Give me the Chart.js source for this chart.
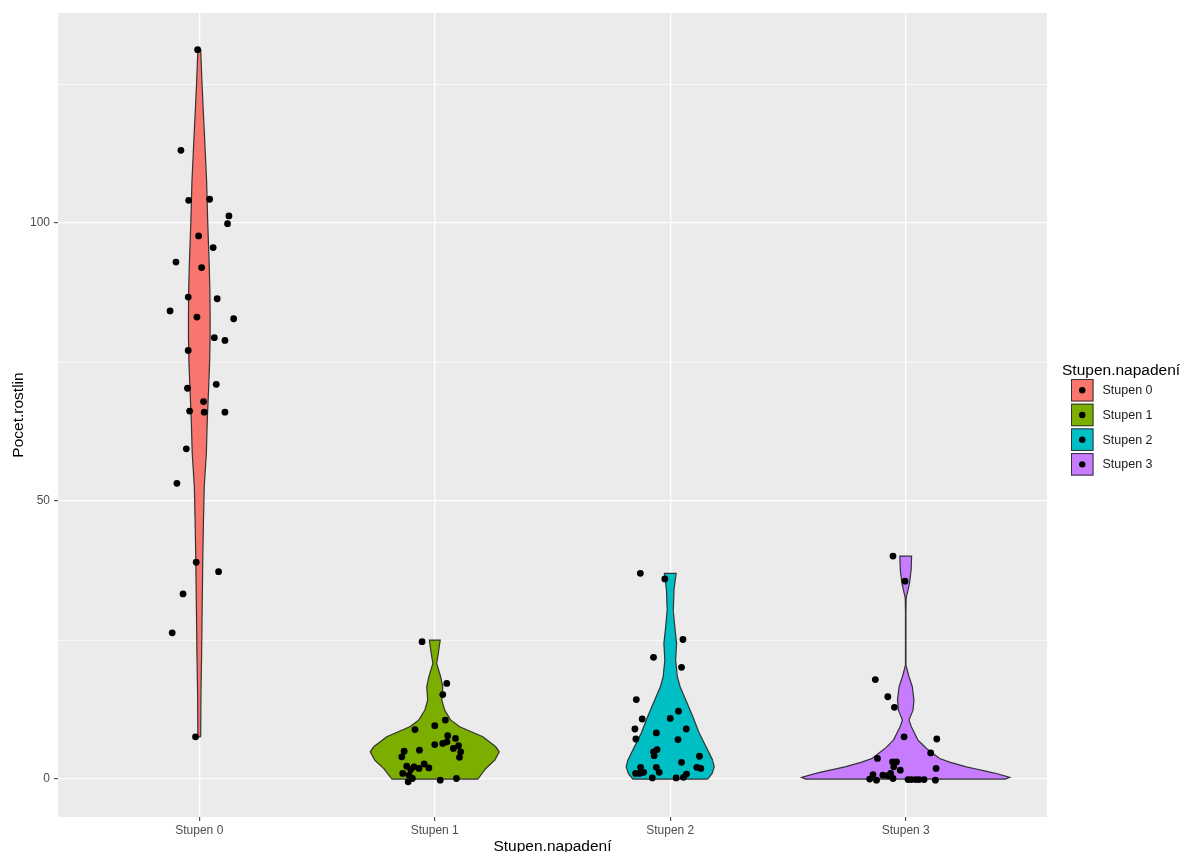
<!DOCTYPE html>
<html><head><meta charset="utf-8">
<script src="https://cdn.jsdelivr.net/npm/chart.js@4.4.1/dist/chart.umd.min.js"></script>
<style>html,body{margin:0;padding:0;background:#fff}#wrap{width:1192px;height:852px}</style>
</head><body><div id="wrap"><canvas id="c" width="1192" height="852"></canvas></div>
<script>
const categories = ['Stupen 0','Stupen 1','Stupen 2','Stupen 3'];
const colors = ['#F8766D','#7CAE00','#00BFC4','#C77CFF'];
const yTicks = [0,25,50,75,100,125];
const yTickLabels = ['0','','50','','100',''];
const xTitle = 'Stupen.napadení';
const yTitle = 'Pocet.rostlin';
const legendTitle = 'Stupen.napadení';

// violin outlines: value levels and half widths (in category units)
const violin0Y = [7.6,15,22.7,30,40,47,52.6,58.6,64.6,70.6,75,79.6,83.1,88,92.8,100,107.7,116.7,121,125.7,131.2];
const violin0W = [0.006,0.007,0.010,0.012,0.015,0.018,0.021,0.030,0.034,0.040,0.044,0.046,0.046,0.045,0.042,0.036,0.031,0.021,0.016,0.011,0.006];
const violin1Y = [0,1.9,3.4,4.9,5.8,7.6,9.4,10.6,12.4,14.2,16.6,18.4,20.8,22.6,25];
const violin1W = [0.183,0.217,0.255,0.274,0.259,0.204,0.106,0.068,0.042,0.030,0.034,0.025,0.008,0.015,0.023];
const violin2Y = [0,1.0,2.2,3.4,5.2,8.3,11.2,14.2,16.6,18.4,21.4,24.4,27.5,30.4,34.0,37.0];
const violin2W = [0.159,0.178,0.187,0.180,0.159,0.123,0.096,0.066,0.042,0.030,0.023,0.027,0.019,0.013,0.016,0.025];
const violin3Y = [0,0.3,1.0,1.5,2.2,3.0,3.7,5.5,7.0,9.4,10.6,12.4,14.2,16.6,18.4,20.5,25,30,32.6,33.5,35.2,37.6,40.1];
const violin3W = [0.425,0.442,0.385,0.33,0.258,0.19,0.144,0.088,0.052,0.024,0.014,0.031,0.035,0.028,0.014,0.001,0.001,0.001,0.002,0.007,0.016,0.023,0.025];

// jittered observations: values and horizontal jitter (category units)
const points0Y = [131.2,113.1,104.1,104.3,101.3,99.9,97.7,95.6,93.0,92.0,86.7,86.4,84.2,83.1,82.8,79.4,78.9,77.1,70.3,71.0,67.9,66.2,66.0,66.0,59.4,53.2,39.0,37.3,33.3,26.3,7.6];
const points0J = [-0.007,-0.078,-0.045,0.044,0.126,0.120,-0.003,0.059,-0.099,0.010,-0.047,0.076,-0.124,-0.010,0.146,0.064,0.109,-0.047,-0.050,0.072,0.018,-0.041,0.021,0.109,-0.055,-0.095,-0.013,0.082,-0.069,-0.115,-0.016];
const points1Y = [24.7,17.2,15.2,10.6,9.6,8.9,7.8,7.3,6.7,6.4,6.2,6.0,5.5,4.9,5.2,5.0,4.0,3.9,2.3,2.2,2.7,1.9,2.0,1.7,1.0,0.7,0.1,-0.5,-0.2,0.1];
const points1J = [-0.054,0.051,0.034,0.045,0.000,-0.084,0.055,0.088,0.052,0.034,0.000,0.101,0.079,0.110,-0.065,-0.130,-0.140,0.105,-0.119,-0.088,-0.045,-0.067,-0.025,-0.102,-0.136,-0.109,-0.095,-0.113,0.023,0.092];
const points2Y = [37.0,36.0,25.1,21.9,20.1,14.3,12.2,10.8,10.9,9.0,9.0,8.3,7.2,7.1,5.3,4.9,4.2,4.1,3.0,2.1,2.1,2.1,1.9,1.0,1.0,1.2,1.2,0.9,0.2,0.2,0.3];
const points2J = [-0.127,-0.023,0.054,-0.071,0.048,-0.144,0.035,-0.119,0.000,-0.150,0.068,-0.059,-0.146,0.033,-0.056,-0.071,-0.068,0.124,0.048,-0.126,-0.059,0.113,0.130,-0.147,-0.130,-0.113,-0.047,0.069,-0.076,0.025,0.056];
const points3Y = [40.1,35.6,17.9,14.8,12.9,7.6,7.2,4.7,3.7,3.1,3.1,2.2,1.6,1.9,0.8,0.7,0.6,1.0,0.0,-0.2,0.1,-0.1,-0.1,-0.1,-0.1,-0.1,-0.2];
const points3J = [-0.054,-0.003,-0.129,-0.076,-0.048,-0.007,0.132,0.106,-0.120,-0.056,-0.039,-0.051,-0.023,0.129,-0.139,-0.097,-0.076,-0.064,-0.153,-0.124,-0.054,0.010,0.024,0.042,0.057,0.078,0.126];

const violinY = [violin0Y, violin1Y, violin2Y, violin3Y];
const violinW = [violin0W, violin1W, violin2W, violin3W];
const pointsY = [points0Y, points1Y, points2Y, points3Y];
const pointsJ = [points0J, points1J, points2J, points3J];

const FONT = '"Liberation Sans", Arial, Helvetica, sans-serif';

function violinPolygon(g) {
  const c = g + 1, ys = violinY[g], ws = violinW[g];
  const pts = [];
  for (let i = 0; i < ys.length; i++) pts.push({x: c + ws[i], y: ys[i]});
  for (let i = ys.length - 1; i >= 0; i--) pts.push({x: c - ws[i], y: ys[i]});
  pts.push({x: c + ws[0], y: ys[0]});
  return pts;
}

const datasets = [];
categories.forEach((name, g) => {
  datasets.push({
    type: 'line', label: name + ' violin', data: violinPolygon(g),
    borderColor: '#333333', borderWidth: 1.2, backgroundColor: colors[g],
    fill: 'shape', tension: 0.000001, pointRadius: 0, pointHoverRadius: 0, order: 2
  });
});
categories.forEach((name, g) => {
  datasets.push({
    type: 'scatter', label: name,
    data: pointsY[g].map((v, i) => ({x: g + 1 + pointsJ[g][i], y: v})),
    backgroundColor: '#000000', borderColor: '#000000', borderWidth: 0,
    pointRadius: 3.4, pointHoverRadius: 3.4, order: 1
  });
});

const panelBg = {
  id: 'panelBg',
  beforeDraw(chart) {
    const {ctx, chartArea: a} = chart;
    ctx.save(); ctx.fillStyle = '#EBEBEB';
    ctx.fillRect(a.left, a.top, a.right - a.left, a.bottom - a.top);
    ctx.restore();
  }
};

const ggLegend = {
  id: 'ggLegend',
  afterDraw(chart) {
    const ctx = chart.ctx, a = chart.chartArea;
    const x0 = a.right + 15;
    ctx.save();
    ctx.textBaseline = 'middle'; ctx.textAlign = 'left';
    ctx.fillStyle = '#000000';
    ctx.font = '15.5px ' + FONT;
    ctx.fillText(legendTitle, x0, 371);
    categories.forEach((name, i) => {
      const top = 379 + i * 24.7, size = 22.5, left = x0 + 9;
      ctx.fillStyle = colors[i];
      ctx.fillRect(left, top, size, size);
      ctx.strokeStyle = '#333333'; ctx.lineWidth = 1;
      ctx.strokeRect(left + 0.5, top + 0.5, size - 1, size - 1);
      ctx.beginPath(); ctx.arc(left + size / 2, top + size / 2, 3.2, 0, Math.PI * 2);
      ctx.fillStyle = '#000000'; ctx.fill();
      ctx.font = '12.5px ' + FONT; ctx.fillStyle = '#1A1A1A';
      ctx.fillText(name, left + size + 9, top + size / 2 + 0.5);
    });
    ctx.restore();
  }
};

new Chart(document.getElementById('c'), {
  type: 'scatter',
  data: {datasets},
  plugins: [panelBg, ggLegend],
  options: {
    responsive: false, animation: false, devicePixelRatio: 1,
    layout: {padding: {top: 13, right: 145, left: 0, bottom: 0}},
    plugins: {legend: {display: false}, tooltip: {enabled: false}},
    scales: {
      x: {
        type: 'linear', min: 0.4, max: 4.6,
        afterBuildTicks: s => { s.ticks = categories.map((c, i) => ({value: i + 1})); },
        afterFit: s => { s.height = 35; },
        ticks: {autoSkip: false, maxRotation: 0, padding: 2, color: '#4D4D4D',
          font: {family: FONT, size: 12}, callback: v => categories[Math.round(v) - 1]},
        grid: {color: '#FFFFFF', lineWidth: 1.3, tickLength: 4, tickColor: '#333333', tickWidth: 1},
        border: {display: false},
        title: {display: true, text: xTitle, color: '#000000',
          font: {family: FONT, size: 15.5, lineHeight: 0.66}, padding: {top: 0, bottom: 0}}
      },
      y: {
        type: 'linear', min: -6.83, max: 137.8,
        afterBuildTicks: s => { s.ticks = yTicks.map(v => ({value: v})); },
        afterFit: s => { s.width = 58; },
        ticks: {autoSkip: false, padding: 4, color: '#4D4D4D', font: {family: FONT, size: 12},
          callback: (v) => yTickLabels[yTicks.indexOf(v)] ?? ''},
        grid: {
          color: '#FFFFFF',
          lineWidth: ctx => (ctx.tick && yTickLabels[yTicks.indexOf(ctx.tick.value)] !== '' ? 1.3 : 0.6),
          tickLength: 4, tickWidth: 1,
          tickColor: ctx => (ctx.tick && yTickLabels[yTicks.indexOf(ctx.tick.value)] !== '' ? '#333333' : 'rgba(0,0,0,0)')
        },
        border: {display: false},
        title: {display: true, text: yTitle, color: '#000000',
          font: {family: FONT, size: 15.5, lineHeight: 1.2}, padding: {top: 9, bottom: 0}}
      }
    }
  }
});
</script></body></html>
